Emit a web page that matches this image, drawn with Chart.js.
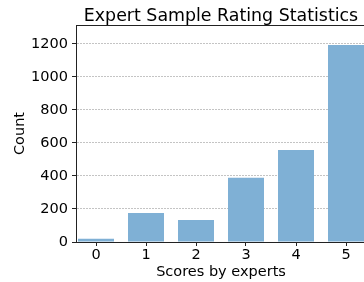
<!DOCTYPE html>
<html>
<head>
<meta charset="utf-8">
<script src="https://cdn.jsdelivr.net/npm/chart.js@4/dist/chart.umd.min.js"></script>
<style>
  html, body { margin: 0; padding: 0; background: #fff; overflow: hidden; }
  #wrap { width: 364px; height: 282px; overflow: hidden; }
</style>
</head>
<body>
<div id="wrap"><canvas id="ratingChart" width="372" height="282"></canvas></div>
<script>
// Expert rating counts
const scores = [0, 1, 2, 3, 4, 5];
const counts = [20, 176, 133, 390, 558, 1194];
const yTicks = [0, 200, 400, 600, 800, 1000, 1200];

const titleText = 'Expert Sample Rating Statistics';
const font = { family: 'DejaVu Sans', size: 14.5 };

// title centred over the plot area, plus the top spine
const frame = {
    id: 'frame',
    afterDraw(chart) {
        const { ctx, chartArea } = chart;
        ctx.save();
        ctx.strokeStyle = '#222';
        ctx.lineWidth = 1;
        ctx.beginPath();
        ctx.moveTo(chartArea.left, chartArea.top + 0.5);
        ctx.lineTo(chartArea.right, chartArea.top + 0.5);
        ctx.stroke();
        ctx.fillStyle = '#000';
        ctx.font = '17.4px "DejaVu Sans"';
        ctx.textAlign = 'center';
        ctx.textBaseline = 'alphabetic';
        ctx.fillText(titleText, (chartArea.left + chartArea.right) / 2, 21);
        ctx.restore();
    }
};

new Chart(document.getElementById('ratingChart'), {
    type: 'bar',
    data: {
        datasets: [{
            data: scores.map((s, i) => ({ x: s, y: counts[i] })),
            backgroundColor: '#7fb0d5',
            borderWidth: 0,
            barPercentage: 0.72,
            categoryPercentage: 1
        }]
    },
    options: {
        responsive: false,
        animation: false,
        layout: { padding: { top: 25, right: 6, left: 0, bottom: 0 } },
        plugins: {
            legend: { display: false },
            tooltip: { enabled: false }
        },
        scales: {
            x: {
                type: 'linear',
                min: -0.4,
                max: 5.4,
                offset: false,
                afterFit: (s) => { s.height = 40; },
                afterBuildTicks: (s) => { s.ticks = scores.map(v => ({ value: v })); },
                ticks: {
                    includeBounds: false,
                    color: '#000',
                    font: font,
                    padding: 1,
                    maxRotation: 0,
                    callback: (v) => String(v)
                },
                grid: {
                    offset: false,
                    drawOnChartArea: false,
                    tickLength: 4,
                    tickColor: '#222'
                },
                border: { color: '#222', width: 1 },
                title: {
                    display: true,
                    text: 'Scores by experts',
                    color: '#000',
                    font: font,
                    padding: { top: 0, bottom: 1 }
                }
            },
            y: {
                min: 0,
                max: 1315,
                afterFit: (s) => { s.width = 76; },
                afterBuildTicks: (s) => { s.ticks = yTicks.map(v => ({ value: v })); },
                ticks: {
                    includeBounds: false,
                    color: '#000',
                    font: font,
                    padding: 4,
                    callback: (v) => String(v)
                },
                grid: {
                    color: '#c4c4c4',
                    tickLength: 4,
                    tickColor: '#222',
                    tickBorderDash: []
                },
                border: { color: '#222', width: 1, dash: [2, 1] },
                title: {
                    display: true,
                    text: 'Count',
                    color: '#000',
                    font: font,
                    padding: { top: 12, bottom: 0 }
                }
            }
        }
    },
    plugins: [frame]
});
</script>
</body>
</html>
